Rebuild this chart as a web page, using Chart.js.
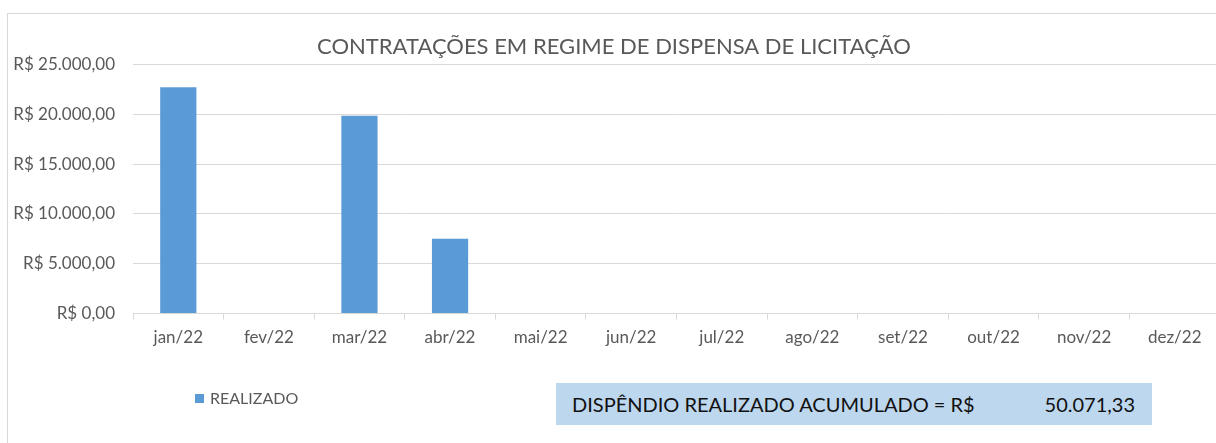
<!DOCTYPE html>
<html>
<head>
<meta charset="utf-8">
<script src="https://cdn.jsdelivr.net/npm/chart.js@4/dist/chart.umd.min.js"></script>
<style>
    html, body { margin: 0; padding: 0; background: #fff; overflow: hidden; }
    body { width: 1216px; height: 443px; position: relative; font-family: Lato, "Open Sans", sans-serif; }
    #frame { position: absolute; left: 7px; top: 13px; width: 1300px; height: 500px; border: 1px solid #d9d9d9; }
    #wrap { position: absolute; left: 0; top: 0; width: 1222px; height: 443px; }
    #legend { position: absolute; left: 195px; top: 389px; font-size: 16px; line-height: 18px; color: #595959; }
    #legend span.box { display: inline-block; width: 9px; height: 9px; margin-right: 6px; vertical-align: 1px; }
    #total { position: absolute; left: 556px; top: 383px; width: 596px; height: 42px; background: #bdd7ee; color: #111; font-size: 20px; line-height: 42px; }
    #total .lbl { position: absolute; left: 16px; }
    #total .val { position: absolute; right: 17px; }
</style>
</head>
<body>
<div id="frame"></div>
<div id="wrap"><canvas id="chart"></canvas></div>
<div id="legend"></div>
<div id="total"><span class="lbl">DISPÊNDIO REALIZADO ACUMULADO = R$</span><span class="val"></span></div>
<script>
    var months = ['jan/22', 'fev/22', 'mar/22', 'abr/22', 'mai/22', 'jun/22', 'jul/22', 'ago/22', 'set/22', 'out/22', 'nov/22', 'dez/22'];
    var realizado = [22700.00, 0, 19850.00, 7521.33, 0, 0, 0, 0, 0, 0, 0, 0];
    var title = 'CONTRATAÇÕES EM REGIME DE DISPENSA DE LICITAÇÃO';
    var seriesName = 'REALIZADO';
    var barColor = '#5b9bd5';
    var gridColor = '#d9d9d9';
    var textColor = '#595959';

    function brl(v) {
        return v.toLocaleString('pt-BR', { minimumFractionDigits: 2, maximumFractionDigits: 2 });
    }

    var total = realizado.reduce(function(a, b) { return a + b; }, 0);
    document.querySelector('#total .val').textContent = brl(total);

    var chart = new Chart(document.getElementById('chart'), {
        type: 'bar',
        data: {
            labels: months,
            datasets: [{
                label: seriesName,
                data: realizado,
                backgroundColor: barColor,
                categoryPercentage: 1,
                barPercentage: 0.4
            }]
        },
        options: {
            responsive: true,
            maintainAspectRatio: false,
            animation: false,
            layout: { padding: { left: 8, right: 2, top: 0, bottom: 87 } },
            plugins: {
                legend: { display: false },
                tooltip: { enabled: false },
                title: {
                    display: true,
                    text: title,
                    color: textColor,
                    font: { family: 'Lato', size: 22, weight: 'normal' },
                    padding: { top: 34, bottom: 4 }
                }
            },
            scales: {
                x: {
                    grid: { display: true, drawOnChartArea: false, drawTicks: true, tickLength: 6, offset: true, color: gridColor },
                    border: { color: gridColor },
                    ticks: { color: textColor, font: { family: 'Lato', size: 17 }, padding: 8, maxRotation: 0 }
                },
                y: {
                    min: 0,
                    max: 25000,
                    afterFit: function(scale) { scale.width = 125; },
                    grid: { color: gridColor, drawTicks: false },
                    border: { display: false },
                    ticks: {
                        stepSize: 5000,
                        color: textColor,
                        font: { family: 'Lato', size: 17 },
                        padding: 18,
                        callback: function(v) { return 'R$ ' + brl(v); }
                    }
                }
            }
        }
    });

    // legenda simples em html
    var legendEl = document.getElementById('legend');
    legendEl.innerHTML = '<span class="box" style="background:' + barColor + '"></span>' + chart.data.datasets[0].label;
</script>
</body>
</html>
